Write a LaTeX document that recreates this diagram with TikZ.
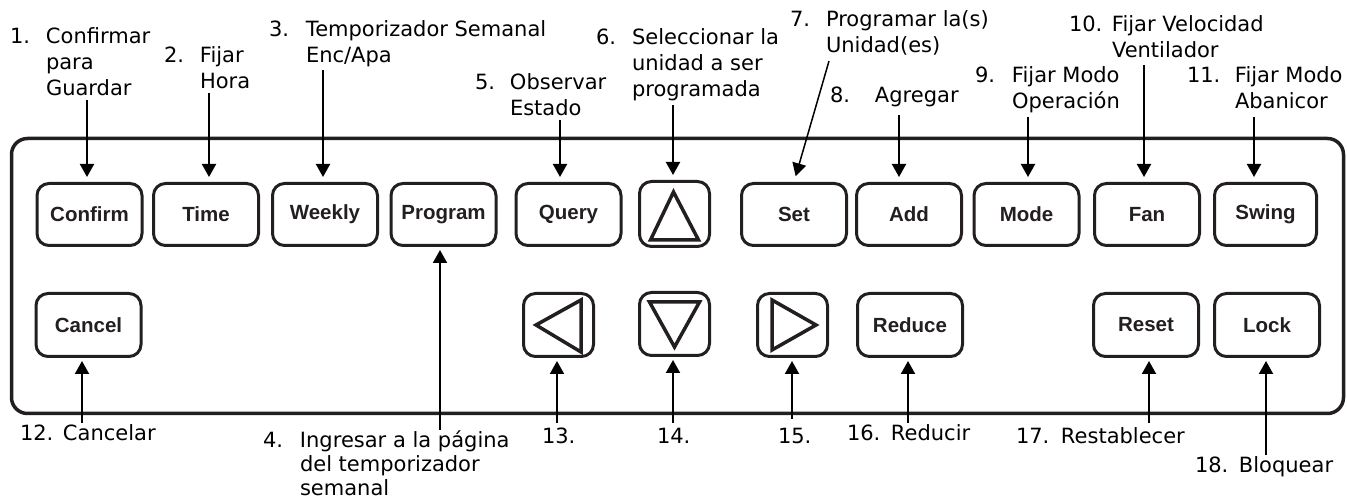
\documentclass[tikz,border=0pt]{standalone}
\usepackage{fontspec}
\usetikzlibrary{arrows.meta,calc}
\newfontfamily\labfam{DejaVu Sans}
\newfontfamily\btnfam{Liberation Sans}
\definecolor{ink}{RGB}{35,31,32}
\newcommand\lbl[3]{\makebox[#1][l]{#2}\begin{tabular}[t]{@{}l@{}}#3\end{tabular}}
\tikzset{
  btn/.style={draw=ink, line width=3pt, rounded corners=12pt, inner sep=0pt,
    minimum width=105pt, minimum height=62pt,
    font=\btnfam\bfseries\fontsize{20.5}{24}\selectfont, text=ink},
  sqbtn/.style={btn, minimum width=70pt, minimum height=65pt},
  lab/.style={anchor=base west, inner sep=0pt, outer sep=0pt,
    font=\labfam\fontsize{21}{26}\selectfont},
  arr/.style={-{Triangle[width=14pt,length=13pt]}, line width=2pt},
  tri/.style={draw=ink, line width=3.5pt, line join=miter},
}
\begin{document}
\begin{tikzpicture}[x=1pt,y=-1pt]
\useasboundingbox (0,0) rectangle (1347,502);
% panel
\draw[ink, line width=3.5pt, rounded corners=16pt] (11.5,138.5) rectangle (1343.5,413.5);

% top row buttons
\node[btn] (confirm) at (89.5,214.5) {Confirm};
\node[btn] (time)    at (206,214.5)  {Time};
\node[btn] (weekly)  at (325,214.5)  {Weekly};
\node[btn] (program) at (443.5,214.5){Program};
\node[btn] (query)   at (568.5,214.5){Query};
\node[sqbtn] (up)    at (674.5,214)  {};
\node[btn] (set)     at (794,214.5)  {Set};
\node[btn] (add)     at (909,214.5)  {Add};
\node[btn] (mode)    at (1026.5,214.5){Mode};
\node[btn] (fan)     at (1147,214.5) {Fan};
\node[btn, minimum width=102pt] (swing) at (1265.5,214.5){Swing};

% bottom row buttons
\node[btn, minimum height=63pt] (cancel) at (88.5,325) {Cancel};
\node[sqbtn, minimum height=63pt] (left)  at (558.5,325) {};
\node[sqbtn, minimum height=63pt] (down)  at (674.5,324) {};
\node[sqbtn, minimum height=63pt] (right) at (792.5,325) {};
\node[btn, minimum height=63pt] (reduce) at (910,325) {Reduce};
\node[btn, minimum height=63pt] (reset)  at (1146,325) {Reset};
\node[btn, minimum height=63pt] (lock)   at (1267,325) {Lock};

% triangles
\draw[tri] ([shift={(-1,-22)}]up.center) -- ([shift={(24,26)}]up.center) -- ([shift={(-24,26)}]up.center) -- cycle;
\draw[tri] ([shift={(-25,-22)}]down.center) -- ([shift={(25,-22)}]down.center) -- ([shift={(0,23)}]down.center) -- cycle;
\draw[tri] ([shift={(-22.5,0)}]left.center) -- ([shift={(22.5,-25)}]left.center) -- ([shift={(22.5,27)}]left.center) -- cycle;
\draw[tri] ([shift={(-20.5,-25)}]right.center) -- ([shift={(23.5,0)}]right.center) -- ([shift={(-20.5,25)}]right.center) -- cycle;

% labels
\node[lab] (l1)  at (10,44)    {\lbl{36pt}{1.}{Confirmar\\para\\Guardar}};
\node[lab] (l2)  at (164,63)   {\lbl{36pt}{2.}{Fijar\\Hora}};
\node[lab] (l3)  at (269,37)   {\lbl{37pt}{3.}{Temporizador Semanal\\Enc/Apa}};
\node[lab] (l4)  at (263,447)  {\renewcommand\arraystretch{0.94}\lbl{37pt}{4.}{Ingresar a la página\\del temporizador\\semanal}};
\node[lab] (l5)  at (475,90)   {\lbl{35pt}{5.}{Observar\\Estado}};
\node[lab] (l6)  at (596,45)   {\lbl{36pt}{6.}{Seleccionar la\\unidad a ser\\programada}};
\node[lab] (l7)  at (790,27)   {\lbl{36pt}{7.}{Programar la(s)\\Unidad(es)}};
\node[lab] (l8)  at (830,103)  {\lbl{45pt}{8.}{Agregar}};
\node[lab] (l9)  at (975,83)   {\lbl{37pt}{9.}{Fijar Modo\\Operación}};
\node[lab] (l10) at (1069,32)  {\lbl{43pt}{10.}{Fijar Velocidad\\Ventilador}};
\node[lab] (l11) at (1187,83)  {\lbl{48pt}{11.}{Fijar Modo\\Abanicor}};
\node[lab] (l12) at (20,440)   {\lbl{43pt}{12.}{Cancelar}};
\node[lab] (l13) at (542,443)  {13.};
\node[lab] (l14) at (657,443)  {14.};
\node[lab] (l15) at (778,443)  {15.};
\node[lab] (l16) at (847,440)  {\lbl{44pt}{16.}{Reducir}};
\node[lab] (l17) at (1016,443) {\lbl{45pt}{17.}{Restablecer}};
\node[lab] (l18) at (1195,472) {\lbl{44pt}{18.}{Bloquear}};

% arrow start points
\coordinate (s1)  at (87,100);
\coordinate (s2)  at (209,93);
\coordinate (s3)  at (323,70);
\coordinate (s5)  at (560,120);
\coordinate (s6)  at (673,105);
\coordinate (s7)  at (829,61);
\coordinate (s8)  at (899,115);
\coordinate (s9)  at (1028,117);
\coordinate (s10) at (1144,65);
\coordinate (s11) at (1254,117);
\coordinate (s4)  at (440,430);
\coordinate (s12) at (82,423);
\coordinate (s13) at (557,423);
\coordinate (s14) at (673,423);
\coordinate (s15) at (792,419);
\coordinate (s16) at (908,423);
\coordinate (s17) at (1149,423);
\coordinate (s18) at (1266,455);

% arrows down
\draw[arr, shorten >=5pt] (s1)  -- (s1 |- confirm.north);
\draw[arr, shorten >=5pt] (s2)  -- (s2 |- time.north);
\draw[arr, shorten >=5pt] (s3)  -- (s3 |- weekly.north);
\draw[arr, shorten >=5pt] (s5)  -- (s5 |- query.north);
\draw[arr, shorten >=5pt] (s6)  -- (s6 |- up.north);
\draw[arr, shorten >=6pt, line width=1.5pt] (s7) -- (set.north);
\draw[arr, shorten >=5pt] (s8)  -- (s8 |- add.north);
\draw[arr, shorten >=5pt] (s9)  -- (s9 |- mode.north);
\draw[arr, shorten >=5pt] (s10) -- (s10 |- fan.north);
\draw[arr, shorten >=5pt] (s11) -- (s11 |- swing.north);
% arrows up
\draw[arr, shorten >=3pt] (s4)  -- (s4 |- program.south);
\draw[arr, shorten >=3pt] (s12) -- (s12 |- cancel.south);
\draw[arr, shorten >=3pt] (s13) -- (s13 |- left.south);
\draw[arr, shorten >=3pt] (s14) -- (s14 |- down.south);
\draw[arr, shorten >=3pt] (s15) -- (s15 |- right.south);
\draw[arr, shorten >=3pt] (s16) -- (s16 |- reduce.south);
\draw[arr, shorten >=3pt] (s17) -- (s17 |- reset.south);
\draw[arr, shorten >=3pt] (s18) -- (s18 |- lock.south);
\end{tikzpicture}
\end{document}
